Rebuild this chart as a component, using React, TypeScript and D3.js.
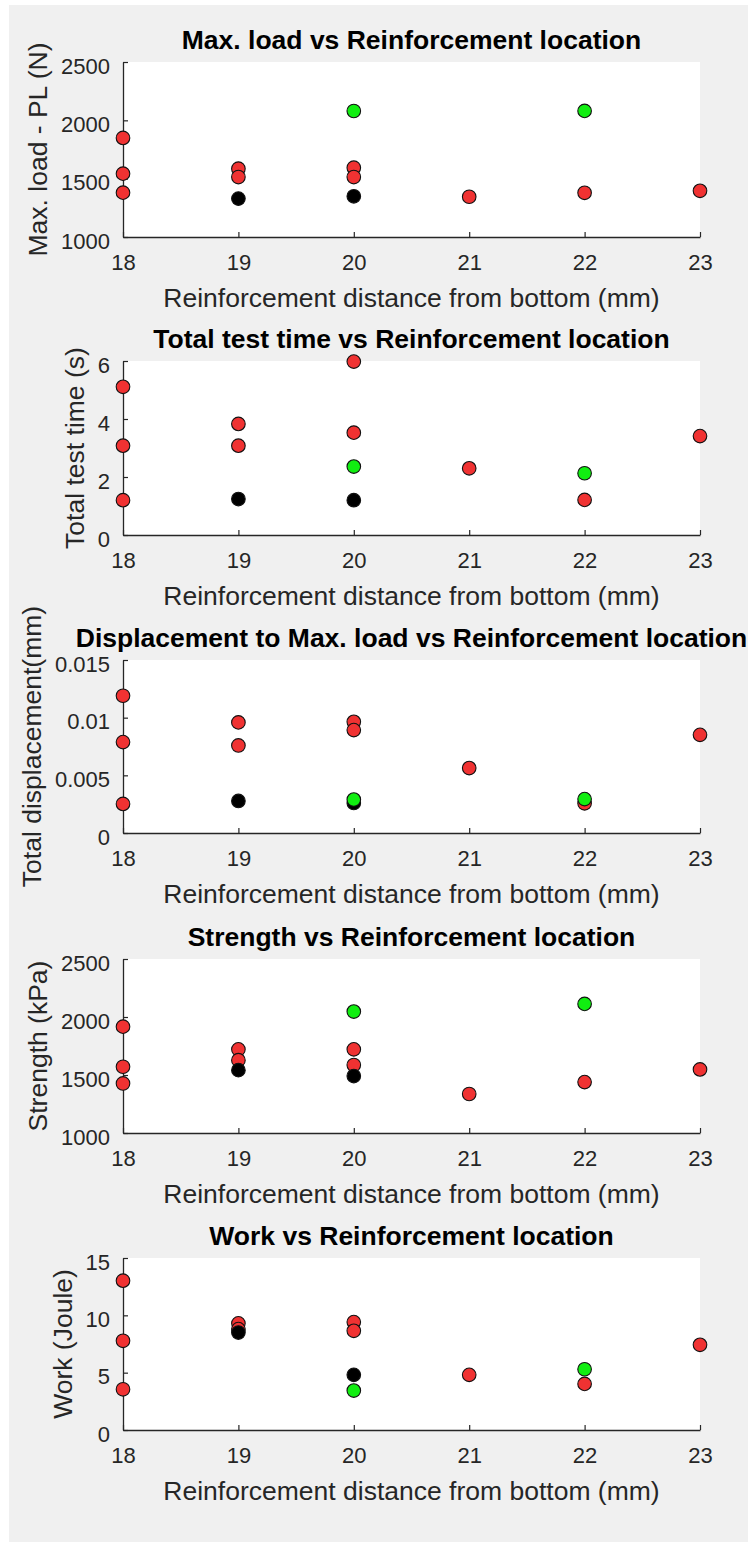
import React, { useEffect, useRef } from 'react';
import * as d3 from 'd3';

// ---------- data ----------
const xTicks = [18, 19, 20, 21, 22, 23];

const redX = [18, 18, 18, 19, 19, 20, 20, 21, 22, 23];
const blackX = [19, 20];
const greenX = [20, 22];

const loadRed = [1849, 1543, 1380, 1586, 1514, 1594, 1514, 1345, 1379, 1396];
const loadBlack = [1329, 1349];
const loadGreen = [2080, 2081];
const loadTicks = [1000, 1500, 2000, 2500];

const timeRed = [5.11, 3.08, 1.2, 3.83, 3.08, 5.98, 3.53, 2.3, 1.21, 3.41];
const timeBlack = [1.24, 1.2];
const timeGreen = [2.36, 2.13];
const timeTicks = [0, 2, 4, 6];

const dispRed = [0.0119, 0.00788, 0.00252, 0.00959, 0.00759, 0.00964, 0.00892, 0.00563, 0.00257, 0.00851];
const dispBlack = [0.00278, 0.0026];
const dispGreen = [0.0029, 0.00294];
const dispTicks = [0, 0.005, 0.01, 0.015];

const strengthRed = [1917, 1571, 1427, 1721, 1628, 1721, 1586, 1336, 1439, 1548];
const strengthBlack = [1542, 1491];
const strengthGreen = [2047, 2113];
const strengthTicks = [1000, 1500, 2000, 2500];

const workRed = [13.02, 7.78, 3.55, 9.3, 8.8, 9.41, 8.65, 4.81, 4.02, 7.43];
const workBlack = [8.5, 4.81];
const workGreen = [3.44, 5.3];
const workTicks = [0, 5, 10, 15];

const titles = [
  'Max. load vs Reinforcement location',
  'Total test time vs Reinforcement location',
  'Displacement to Max. load vs Reinforcement location',
  'Strength vs Reinforcement location',
  'Work vs Reinforcement location',
];
const yLabels = [
  'Max. load - PL (N)',
  'Total test time (s)',
  'Total displacement(mm)',
  'Strength (kPa)',
  'Work (Joule)',
];
const xLabel = 'Reinforcement distance from bottom (mm)';

// ---------- layout ----------
const W = 748;
const H = 1542;
const plotLeft = 123;
const plotRight = 700;
const panelTops = [62, 361, 660, 959, 1258];
const panelBottoms = [237, 535, 833, 1133, 1430];
const FONT = "'Liberation Sans', Arial, Helvetica, sans-serif";
const AXIS_COLOR = '#262626';

const panelData = [
  { red: loadRed, black: loadBlack, green: loadGreen, ticks: loadTicks },
  { red: timeRed, black: timeBlack, green: timeGreen, ticks: timeTicks },
  { red: dispRed, black: dispBlack, green: dispGreen, ticks: dispTicks },
  { red: strengthRed, black: strengthBlack, green: strengthGreen, ticks: strengthTicks },
  { red: workRed, black: workBlack, green: workGreen, ticks: workTicks },
];

export default function App() {
  const ref = useRef<SVGSVGElement | null>(null);

  useEffect(() => {
    const svg = d3.select(ref.current);
    svg.selectAll('*').remove();

    svg.append('rect').attr('width', W).attr('height', H).attr('fill', '#ffffff');
    svg.append('rect').attr('x', 9).attr('y', 5).attr('width', W - 9).attr('height', H - 5).attr('fill', '#f0f0f0');

    const x = d3.scaleLinear().domain([xTicks[0], xTicks[xTicks.length - 1]]).range([plotLeft, plotRight]);
    const cx = (plotLeft + plotRight) / 2;

    panelData.forEach((p, i) => {
      const top = panelTops[i];
      const bottom = panelBottoms[i];
      const y = d3.scaleLinear().domain([p.ticks[0], p.ticks[p.ticks.length - 1]]).range([bottom, top]);
      const g = svg.append('g');

      g.append('rect')
        .attr('x', plotLeft).attr('y', top)
        .attr('width', plotRight - plotLeft).attr('height', bottom - top)
        .attr('fill', '#ffffff');

      // x axis
      const xg = g.append('g').attr('transform', `translate(0,${bottom})`)
        .call(d3.axisBottom(x).tickValues(xTicks).tickSize(-5).tickSizeOuter(0).tickPadding(17).tickFormat((d: any) => String(d)));
      // y axis
      const yg = g.append('g').attr('transform', `translate(${plotLeft},0)`)
        .call(d3.axisLeft(y).tickValues(p.ticks).tickSize(-5).tickSizeOuter(0).tickPadding(13).tickFormat((d: any) => String(+d)));

      [xg, yg].forEach((ag) => {
        ag.attr('font-family', FONT).attr('font-size', 22).attr('color', AXIS_COLOR);
        ag.select('.domain').attr('stroke-width', 1.3);
        ag.selectAll('.tick line').attr('stroke-width', 1.2);
        ag.selectAll('.tick text').attr('fill', AXIS_COLOR);
      });
      yg.selectAll('.tick text').attr('dy', '0.5em');

      // markers: red, black, green
      const series = [
        { xs: redX, ys: p.red, fill: '#f03232' },
        { xs: blackX, ys: p.black, fill: '#000000' },
        { xs: greenX, ys: p.green, fill: '#11ee11' },
      ];
      series.forEach((s) => {
        g.append('g').selectAll('circle')
          .data(s.ys.map((v, k) => [s.xs[k], v]))
          .enter().append('circle')
          .attr('cx', (d) => x(d[0]))
          .attr('cy', (d) => y(d[1]))
          .attr('r', 6.8)
          .attr('fill', s.fill)
          .attr('stroke', '#111')
          .attr('stroke-width', 1.1);
      });

      // title
      g.append('text')
        .attr('x', cx).attr('y', top - 13)
        .attr('text-anchor', 'middle')
        .attr('font-family', FONT).attr('font-size', 26.5).attr('font-weight', 'bold')
        .attr('fill', '#000')
        .text(titles[i]);

      // x label
      g.append('text')
        .attr('x', cx).attr('y', bottom + 70)
        .attr('text-anchor', 'middle')
        .attr('font-family', FONT).attr('font-size', 26.5)
        .attr('fill', AXIS_COLOR)
        .text(xLabel);

      // y label, placed left of the tick labels
      const bb = (yg.node() as SVGGElement).getBBox();
      const lx = plotLeft + bb.x - 23;
      const ly = (top + bottom) / 2;
      g.append('text')
        .attr('transform', `translate(${lx},${ly}) rotate(-90)`)
        .attr('text-anchor', 'middle')
        .attr('dy', '0.35em')
        .attr('font-family', FONT).attr('font-size', 26.5)
        .attr('fill', AXIS_COLOR)
        .text(yLabels[i]);
    });
  }, []);

  return (
    <svg
      ref={ref}
      width={W}
      height={H}
      style={{ position: 'absolute', left: 0, top: 0, display: 'block' }}
    />
  );
}
